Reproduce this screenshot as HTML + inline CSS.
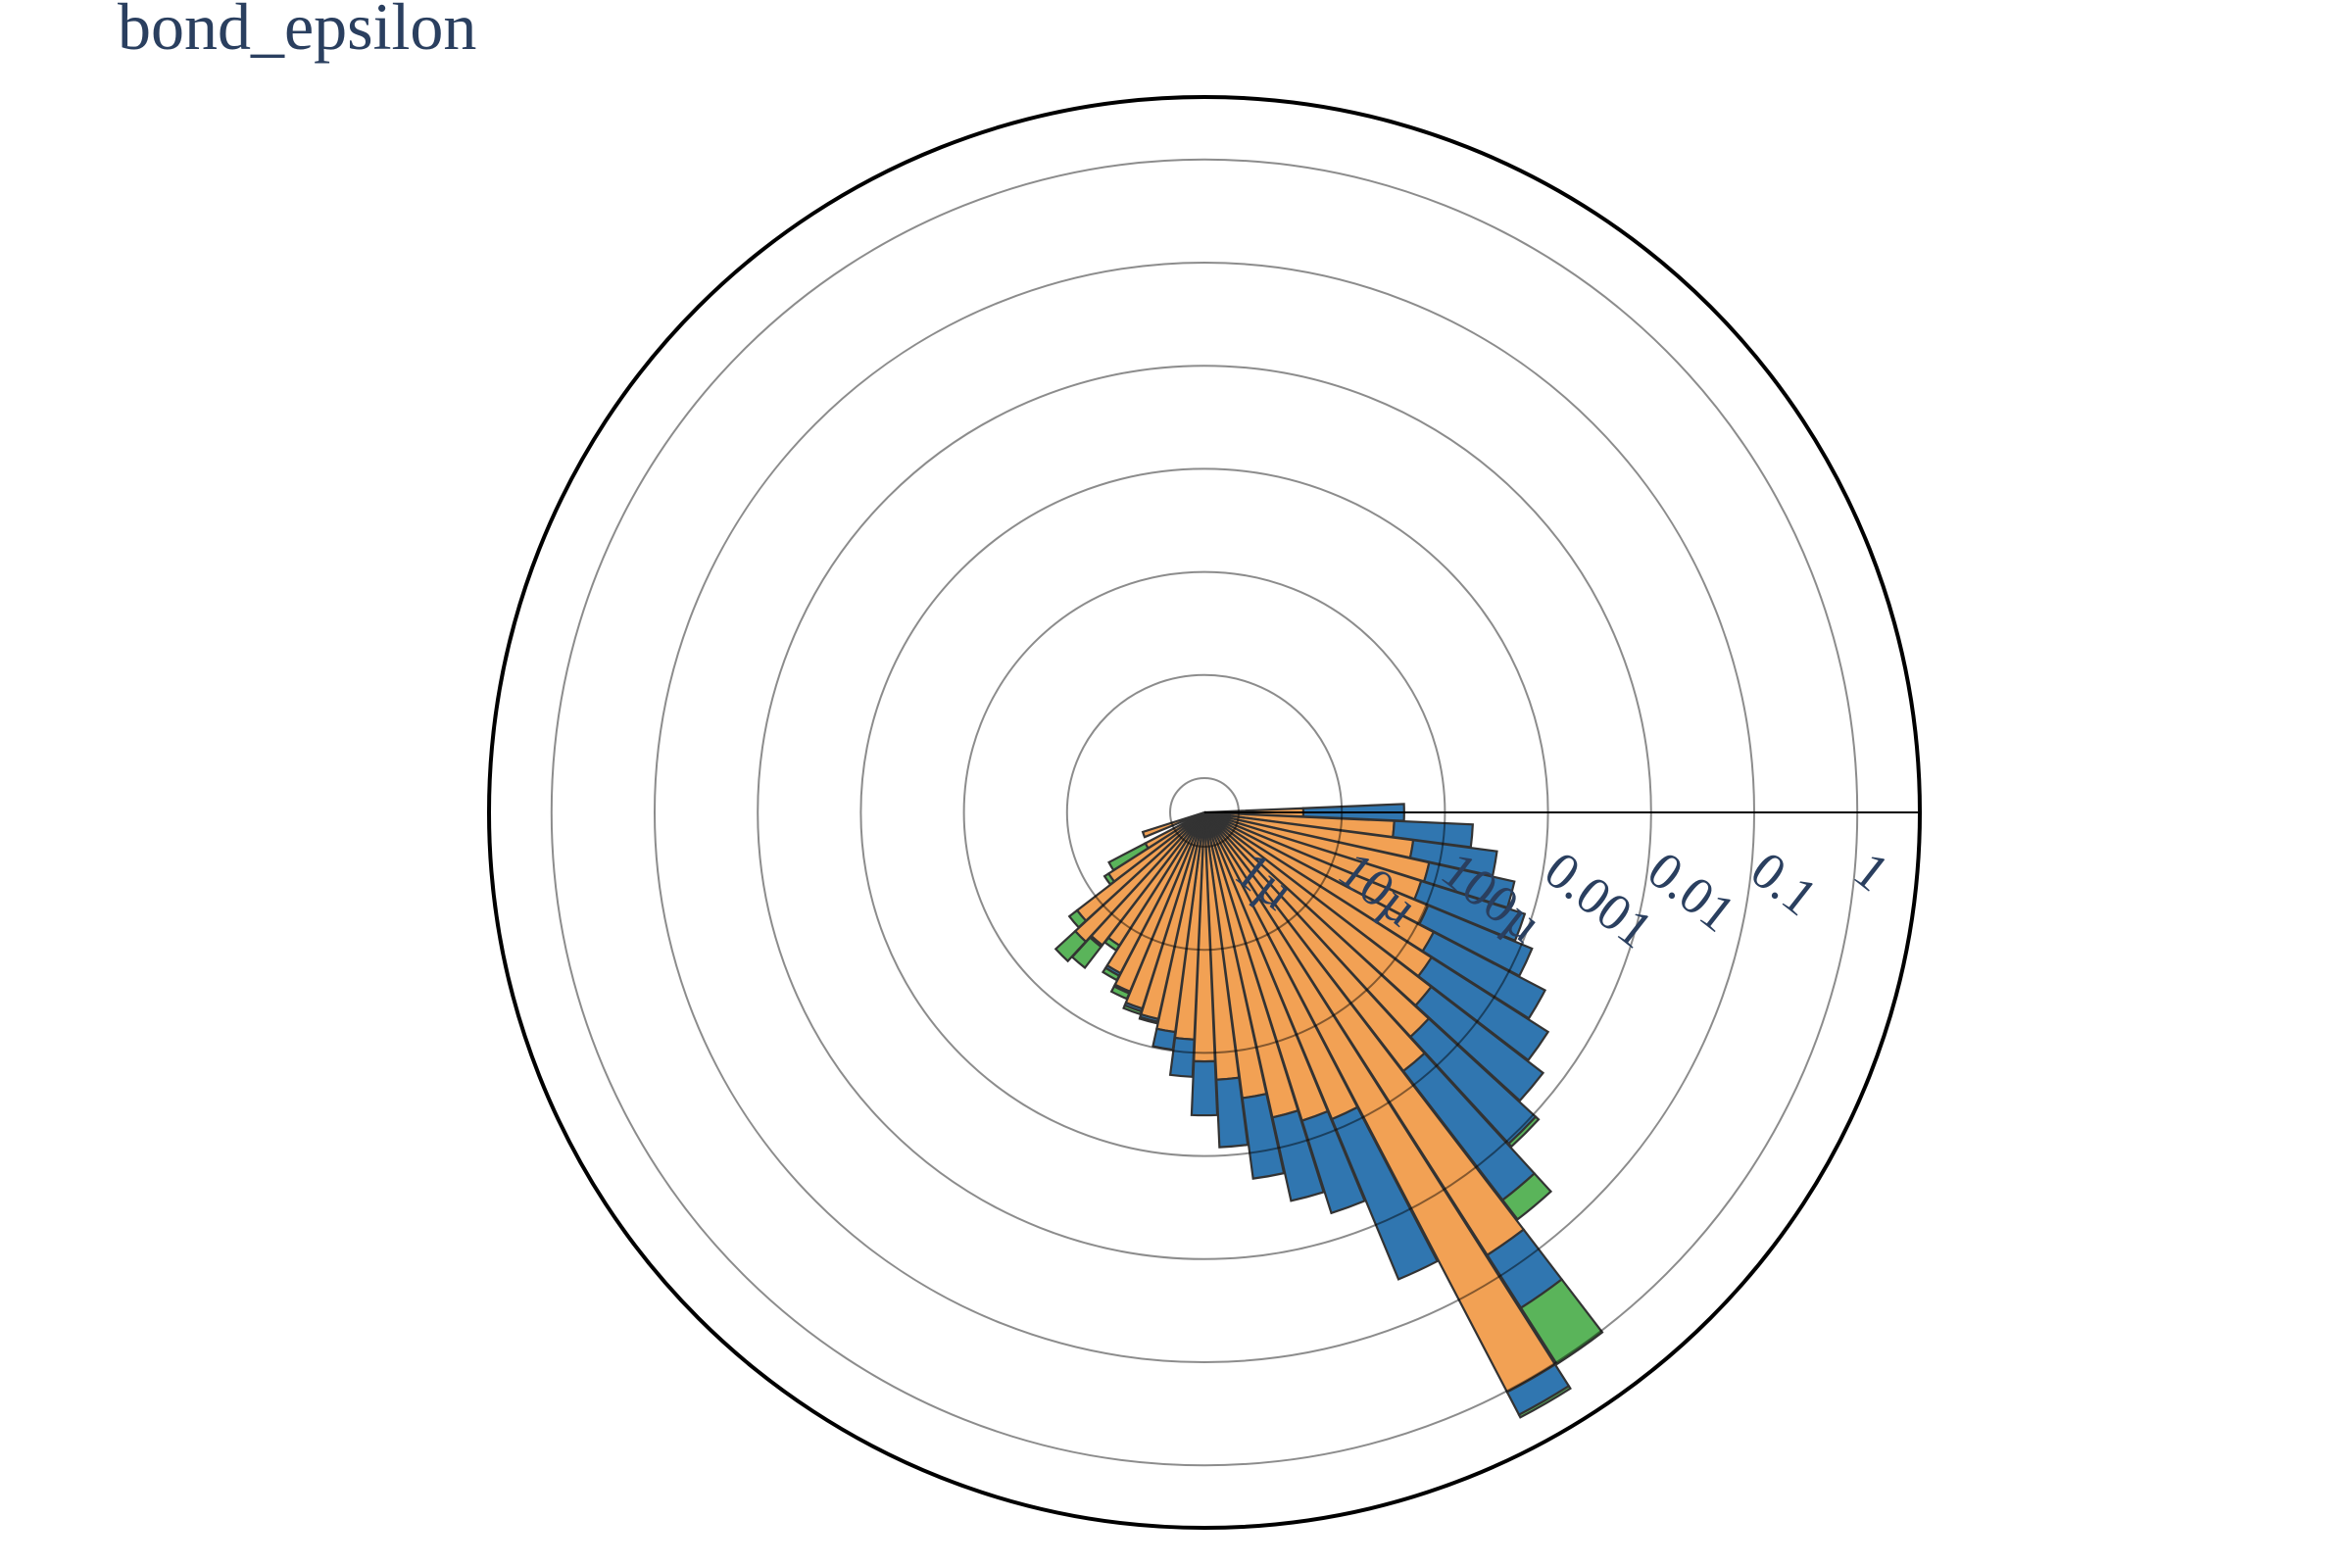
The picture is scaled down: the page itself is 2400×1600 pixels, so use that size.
<!DOCTYPE html>
<html>
<head>
<meta charset="utf-8">
<style>
  html, body { margin: 0; padding: 0; background: #ffffff; }
  #wrap { width: 2400px; height: 1600px; position: relative; overflow: hidden; }
  svg { display: block; }
</style>
</head>
<body>
<div id="wrap">
<svg id="chart" width="2400" height="1600" viewBox="0 0 2400 1600" xmlns="http://www.w3.org/2000/svg">
  <text x="120" y="50" font-family="'Liberation Serif', serif" font-size="68" fill="#2a3f5f">bond_epsilon</text>
  <g id="bars"></g>
  <g id="grid"></g>
  <g id="axis"></g>
</svg>
</div>
<script>
// ---- data ----
const angles = [0,5,10,15,20,25,30,35,40,45,50,55,60,65,70,75,80,85,90,95,100,105,110,115,120,125,130,135,140,145,150,155,160];
const orangeVals = [4.24e-6,3.24e-5,5.14e-5,7.96e-5,7.46e-5,1.04e-4,1.50e-4,1.91e-4,2.77e-4,4.2e-4,6.8e-4,5.78e-2,1.026,7.76e-4,6.37e-4,5.0e-4,2.9e-4,1.83e-4,1.21e-4,7.46e-5,6.55e-5,5.26e-5,4.61e-5,3.54e-5,2.67e-5,1.58e-5,1.96e-5,2.34e-5,1.68e-5,5.89e-6,2.06e-6,0,1.97e-6];
const blueVals = [3.6e-5,1.55e-4,2.87e-4,4.8e-4,7.7e-4,1.18e-3,2.33e-3,4.0e-3,6.2e-3,1.03e-2,2.51e-2,0.177,0.79,3.65e-2,4.9e-3,2.87e-3,1.49e-3,6.45e-4,2.82e-4,9.7e-5,3.2e-5,3.5e-6,3.1e-6,1.6e-6,1.8e-6,0,0.9e-6,0,0,0,0,0,0];
const greenVals = [0,0,0,0,0,0,0,0,0,1.0e-3,1.87e-2,0.805,0.12,0,0,0,0,0,0,0,0,2e-6,3.4e-6,5.2e-6,3.3e-6,2.2e-6,1.65e-5,1.88e-5,4.1e-6,6.7e-7,3.1e-6,0,0];
const tickVals = [1e-6,1e-5,1e-4,1e-3,1e-2,1e-1,1];
const tickLabels = ["1µ","10µ","100µ","0.001","0.01","0.1","1"];

// ---- geometry ----
const CX = 1229, CY = 829, R_OUT = 730;
const R0 = 35, DEC = 105.2;
const BAR_W = 4.85;
function rScale(v) {
  if (!(v > 0)) return 0;
  const r = R0 + DEC * (Math.log10(v) + 6);
  return Math.max(0, Math.min(R_OUT, r));
}
function pt(r, deg) {
  const a = deg * Math.PI / 180;
  return [CX + r * Math.cos(a), CY + r * Math.sin(a)];
}
function sector(r0, r1, a0, a1) {
  const p1 = pt(r1, a0), p2 = pt(r1, a1);
  let d = `M${p1[0].toFixed(2)},${p1[1].toFixed(2)} A${r1},${r1} 0 0 1 ${p2[0].toFixed(2)},${p2[1].toFixed(2)} `;
  if (r0 > 0.5) {
    const p3 = pt(r0, a1), p4 = pt(r0, a0);
    d += `L${p3[0].toFixed(2)},${p3[1].toFixed(2)} A${r0},${r0} 0 0 0 ${p4[0].toFixed(2)},${p4[1].toFixed(2)} Z`;
  } else {
    d += `L${CX},${CY} Z`;
  }
  return d;
}
const NS = "http://www.w3.org/2000/svg";
const barsG = document.getElementById('bars');
const series = [
  { vals: orangeVals, color: '#f2a154', name: 'orange' },
  { vals: blueVals, color: '#3076b0', name: 'blue' },
  { vals: greenVals, color: '#5ab45a', name: 'green' }
];
const cum = angles.map(() => 0);
series.forEach((s) => {
  const g = document.createElementNS(NS, 'g');
  
  
  barsG.appendChild(g);
  angles.forEach((ang, i) => {
    const v = s.vals[i];
    const base = cum[i];
    const top = base + v;
    cum[i] = top;
    if (!(v > 0)) return;
    const r0 = rScale(base), r1 = rScale(top);
    if (r1 - r0 < 0.2) return;
    const p = document.createElementNS(NS, 'path');
    p.setAttribute('d', sector(r0, r1, ang - BAR_W / 2, ang + BAR_W / 2));
    p.setAttribute('fill', s.color);
    p.setAttribute('stroke', '#333333');
    p.setAttribute('stroke-width', '2.2');
    p.setAttribute('stroke-linejoin', 'miter');
    
    
    g.appendChild(p);
  });
});

// ---- grid ----
const gridG = document.getElementById('grid');
tickVals.forEach((tv, i) => {
  const c = document.createElementNS(NS, 'circle');
  c.setAttribute('cx', CX);
  c.setAttribute('cy', CY);
  c.setAttribute('r', rScale(tv));
  c.setAttribute('fill', 'none');
  c.setAttribute('stroke', 'rgba(0,0,0,0.45)');
  c.setAttribute('stroke-width', '2');
  
  
  gridG.appendChild(c);
});

// ---- axis ----
const axisG = document.getElementById('axis');
const outer = document.createElementNS(NS, 'circle');
outer.setAttribute('cx', CX);
outer.setAttribute('cy', CY);
outer.setAttribute('r', R_OUT);
outer.setAttribute('fill', 'none');
outer.setAttribute('stroke', '#000');
outer.setAttribute('stroke-width', '4');


axisG.appendChild(outer);

const line = document.createElementNS(NS, 'line');
line.setAttribute('x1', CX);
line.setAttribute('y1', CY);
line.setAttribute('x2', CX + R_OUT);
line.setAttribute('y2', CY);
line.setAttribute('stroke', '#000');
line.setAttribute('stroke-width', '2');


axisG.appendChild(line);

tickVals.forEach((tv, i) => {
  const x = CX + rScale(tv) - 7;
  const y = CY + 66;
  const t = document.createElementNS(NS, 'text');
  t.setAttribute('x', x.toFixed(1));
  t.setAttribute('y', y);
  t.setAttribute('transform', `rotate(38 ${x.toFixed(1)} ${y})`);
  t.setAttribute('font-family', "'Liberation Serif', serif");
  t.setAttribute('font-size', '54');
  t.setAttribute('fill', '#2a3f5f');
  
  
  t.textContent = tickLabels[i];
  axisG.appendChild(t);
});
</script>
</body>
</html>
